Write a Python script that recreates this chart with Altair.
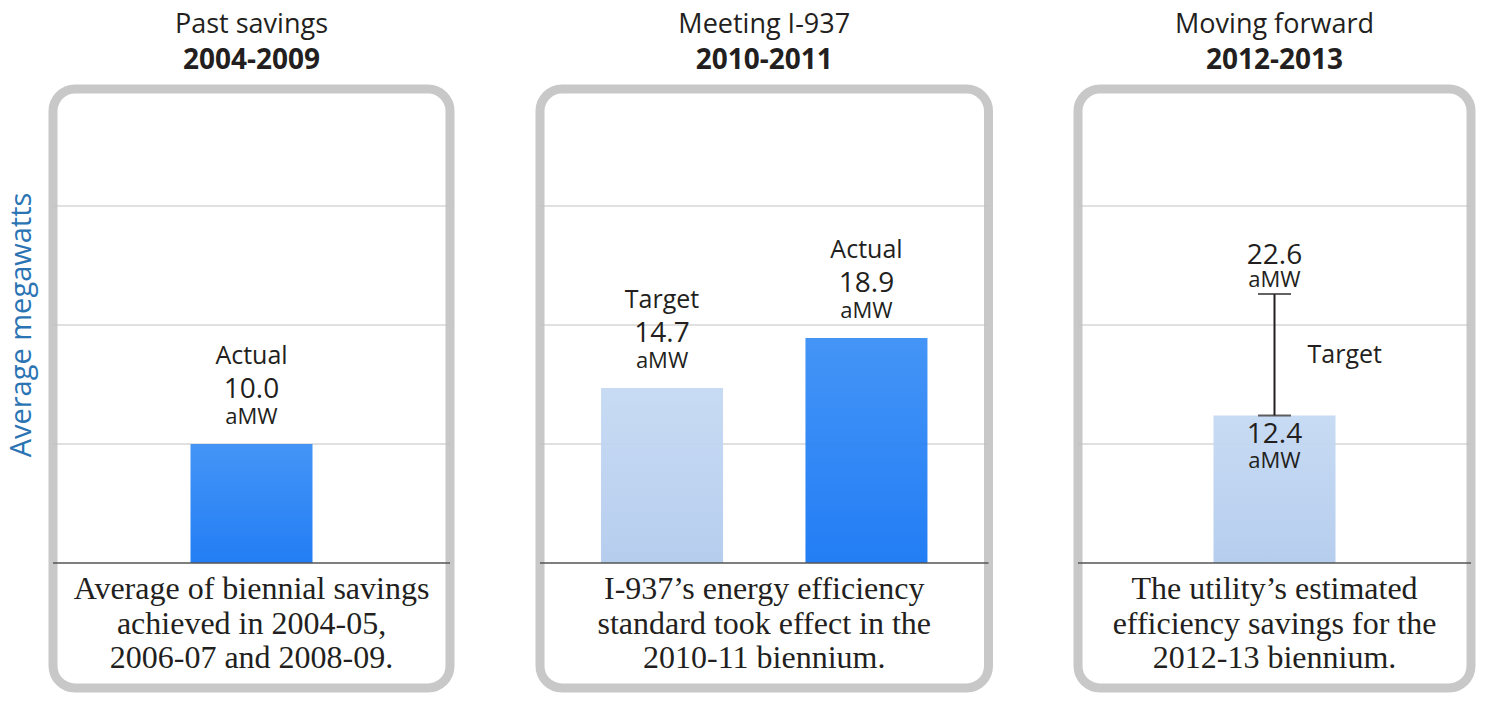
import altair as alt
import pandas as pd

# ---- data ----
panel_titles = ["Past savings", "Meeting I-937", "Moving forward"]
panel_periods = ["2004-2009", "2010-2011", "2012-2013"]

p1_categories = ["Actual"]
p1_values = [10.0]

p2_categories = ["Target", "Actual"]
p2_values = [14.7, 18.9]

p3_categories = ["Target"]
p3_low = [12.4]
p3_high = [22.6]

notes = [
    "Average of biennial savings\nachieved in 2004-05,\n2006-07 and 2008-09.",
    "I-937\u2019s energy efficiency\nstandard took effect in the\n2010-11 biennium.",
    "The utility\u2019s estimated\nefficiency savings for the\n2012-13 biennium.",
]
grid_values = [10, 20, 30]
baseline_value = [0]
y_title = "Average megawatts"
unit = "aMW"

# ---- styling ----
SANS = "Open Sans"
SERIF = "Liberation Serif"
DARK = "#231f20"
H = 599
Y_DOMAIN = [-10.50, 39.83]
yscale = alt.Scale(domain=Y_DOMAIN, nice=False, zero=False)

actual_fill = alt.Gradient(
    gradient="linear", x1=0, x2=0, y1=0, y2=1,
    stops=[alt.GradientStop(color="#3b8ff6", offset=0),
           alt.GradientStop(color="#1777f4", offset=1)])
target_fill = alt.Gradient(
    gradient="linear", x1=0, x2=0, y1=0, y2=1,
    stops=[alt.GradientStop(color="#c5d9f3", offset=0),
           alt.GradientStop(color="#b2cbed", offset=1)])


def grid_layers():
    g = alt.Chart(pd.DataFrame({"v": grid_values})).mark_rule(
        color="#c2c2c2", strokeWidth=1).encode(
        y=alt.Y("v:Q", scale=yscale, axis=None))
    b = alt.Chart(pd.DataFrame({"v": baseline_value})).mark_rule(
        color="#555555", strokeWidth=1.5).encode(
        y=alt.Y("v:Q", scale=yscale, axis=None))
    return g, b


def note_layer(text, width):
    return alt.Chart(pd.DataFrame({"t": [text], "v": [0]})).mark_text(
        font=SERIF, fontSize=32, color=DARK, lineBreak="\n", lineHeight=34.5,
        align="center", baseline="middle", dy=26).encode(
        x=alt.value(width / 2), text="t:N", y=alt.Y("v:Q", scale=yscale, axis=None))


def title(i):
    return alt.TitleParams(
        text=panel_titles[i], subtitle=panel_periods[i], font=SANS, fontSize=27,
        fontWeight="normal", color=DARK, subtitleFont=SANS, subtitleFontSize=28,
        subtitleFontWeight="bold", subtitleColor=DARK, subtitlePadding=8,
        anchor="middle", frame="group", offset=13.5)


def bar_panel(cats, vals, kinds, xscale, width, i):
    df = pd.DataFrame({"cat": cats, "val": vals, "kind": kinds,
                       "num": [f"{v:.1f}" for v in vals]})
    x = alt.X("cat:N", sort=cats, scale=xscale, axis=None)
    y = alt.Y("val:Q", scale=yscale, axis=None)
    g, b = grid_layers()
    layers = [g]
    for k, fill in (("Target", target_fill), ("Actual", actual_fill)):
        if k in kinds:
            layers.append(alt.Chart(df).transform_filter(
                alt.datum.kind == k).mark_bar(width=122, color=fill, opacity=0.95).encode(x=x, y=y))
    layers.append(b)
    layers.append(alt.Chart(df).mark_text(font=SANS, fontSize=25, color=DARK,
                                          baseline="alphabetic", dy=-80).encode(x=x, y=y, text="cat:N"))
    layers.append(alt.Chart(df).mark_text(font=SANS, fontSize=28, color=DARK,
                                          baseline="alphabetic", dy=-46).encode(x=x, y=y, text="num:N"))
    layers.append(alt.Chart(df).mark_text(font=SANS, fontSize=22, color=DARK,
                                          baseline="alphabetic", dy=-20).encode(x=x, y=y, text=alt.value(unit)))
    layers.append(note_layer(notes[i], width))
    return layers


W1, W2, W3 = 397, 448.5, 393

# Panel 1
p1_layers = bar_panel(p1_categories, p1_values, ["Actual"],
                      alt.Scale(paddingInner=0, paddingOuter=0), W1, 0)
ylab = alt.Chart(pd.DataFrame({"v": [20]})).mark_text(
    angle=270, font=SANS, fontSize=29, color="#2b74b4",
    align="center", baseline="middle").encode(
    x=alt.value(-31), y=alt.Y("v:Q", scale=yscale, axis=None), text=alt.value(y_title))
panel1 = alt.layer(*p1_layers, ylab).properties(width=W1, height=H, title=title(0))

# Panel 2
p2_layers = bar_panel(p2_categories, p2_values, ["Target", "Actual"],
                      alt.Scale(paddingInner=0, paddingOuter=0.097), W2, 1)
panel2 = alt.layer(*p2_layers).properties(width=W2, height=H, title=title(1))

# Panel 3
df3 = pd.DataFrame({"cat": p3_categories, "low": p3_low, "high": p3_high})
df3["lownum"] = [f"{v:.1f}" for v in p3_low]
df3["highnum"] = [f"{v:.1f}" for v in p3_high]
x3 = alt.X("cat:N", scale=alt.Scale(paddingInner=0, paddingOuter=0), axis=None)
g3, b3 = grid_layers()
bar3 = alt.Chart(df3).mark_bar(width=122, color=target_fill, opacity=0.95).encode(
    x=x3, y=alt.Y("low:Q", scale=yscale, axis=None))
err = alt.Chart(df3).mark_rule(color=DARK, strokeWidth=2).encode(
    x=x3, y=alt.Y("low:Q", scale=yscale, axis=None), y2="high:Q")
cap_lo = alt.Chart(df3).mark_tick(color=DARK, thickness=2, size=33).encode(
    x=x3, y=alt.Y("low:Q", scale=yscale, axis=None))
cap_hi = alt.Chart(df3).mark_tick(color=DARK, thickness=2, size=33).encode(
    x=x3, y=alt.Y("high:Q", scale=yscale, axis=None))
hi_num = alt.Chart(df3).mark_text(font=SANS, fontSize=28, color=DARK, baseline="alphabetic", dy=-30).encode(
    x=x3, y=alt.Y("high:Q", scale=yscale, axis=None), text="highnum:N")
hi_unit = alt.Chart(df3).mark_text(font=SANS, fontSize=22, color=DARK, baseline="alphabetic", dy=-7).encode(
    x=x3, y=alt.Y("high:Q", scale=yscale, axis=None), text=alt.value(unit))
lo_num = alt.Chart(df3).mark_text(font=SANS, fontSize=28, color=DARK, baseline="alphabetic", dy=28).encode(
    x=x3, y=alt.Y("low:Q", scale=yscale, axis=None), text="lownum:N")
lo_unit = alt.Chart(df3).mark_text(font=SANS, fontSize=22, color=DARK, baseline="alphabetic", dy=53).encode(
    x=x3, y=alt.Y("low:Q", scale=yscale, axis=None), text=alt.value(unit))
tgt = alt.Chart(df3).transform_calculate(mid="(datum.low + datum.high) / 2").mark_text(
    font=SANS, fontSize=25, color=DARK, align="left", baseline="middle", dx=33).encode(
    x=x3, y=alt.Y("mid:Q", scale=yscale, axis=None), text="cat:N")
nl3 = note_layer(notes[2], W3)
panel3 = alt.layer(g3, bar3, b3, err, cap_lo, cap_hi, hi_num, hi_unit, lo_num, lo_unit, tgt, nl3).properties(
    width=W3, height=H, title=title(2))

chart = alt.hconcat(panel1, panel2, panel3, spacing=78).resolve_scale(
    x="independent", y="independent").properties(
    padding={"left": -5, "top": -2, "right": 0, "bottom": 0}).configure_view(
    stroke="#c8c8c8", strokeWidth=9, cornerRadius=22, fill="white")

chart.save("out.html", embed_options={"renderer": "svg", "actions": False})
